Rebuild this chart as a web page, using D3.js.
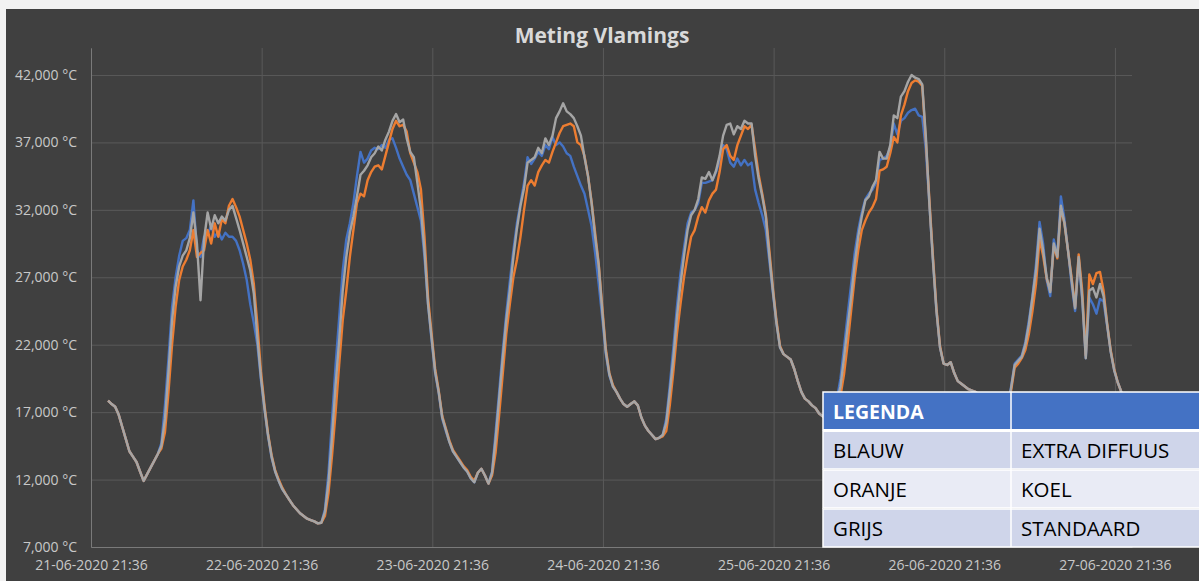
<!DOCTYPE html>
<html>
<head>
<meta charset="utf-8">
<script src="https://cdn.jsdelivr.net/npm/d3@7"></script>
<style>
  body { margin: 0; background: #f2f2f2; }
  svg { display: block; }
</style>
</head>
<body>
<svg id="chart" width="1199" height="581"></svg>
<script>
// half-hour readings, starting 22-06-2020 00:00
var startTime = new Date(2020, 5, 22, 0, 0);
var stepMinutes = 30;

var blauw = [
  17.85,17.6,17.4,16.8,15.9,15.0,14.1,13.7,13.3,12.6,11.9,12.4,12.9,13.4,13.9,14.7,17.5,21.0,24.8,27.0,28.6,29.7,29.9,30.5,
  32.7,29.0,28.5,30.0,30.2,30.8,30.0,30.4,29.8,30.3,30.0,30.0,29.7,29.0,28.0,26.8,25.0,23.6,22.0,19.4,17.2,15.2,13.6,12.6,
  11.9,11.3,10.9,10.5,10.1,9.8,9.5,9.3,9.1,9.0,8.9,8.75,8.8,9.8,12.5,16.5,20.5,24.0,27.5,29.8,31.0,32.5,34.5,36.3,
  35.5,35.8,36.4,36.6,36.5,36.8,36.6,37.2,37.3,36.6,35.8,35.2,34.6,34.2,33.2,32.2,31.2,28.5,25.0,22.3,19.9,18.4,16.5,15.6,
  14.8,14.1,13.7,13.3,12.9,12.6,12.1,11.8,12.5,12.8,12.3,11.7,12.6,15.5,18.5,21.5,24.3,26.7,29.0,31.0,32.5,34.0,35.9,35.4,
  35.8,36.3,36.0,36.8,36.5,37.4,36.8,37.0,36.7,36.2,36.0,35.2,34.5,33.8,33.2,32.0,30.8,28.8,26.5,24.0,21.3,19.7,18.9,18.5,
  18.0,17.6,17.4,17.6,17.8,17.5,16.6,16.0,15.6,15.3,15.0,15.1,15.3,16.5,19.0,21.8,24.8,27.3,29.2,31.0,31.8,32.0,32.5,34.0,
  34.0,34.1,34.2,34.8,35.6,36.8,36.5,35.5,35.2,35.8,35.3,35.7,35.3,35.5,33.5,32.5,31.6,30.5,28.2,25.8,23.6,21.8,21.3,21.1,
  20.9,20.2,19.3,18.5,18.0,17.8,17.5,17.3,16.9,16.7,16.5,16.4,16.8,18.0,19.5,21.8,24.2,26.5,28.8,30.5,31.8,32.8,33.2,33.5,
  34.0,35.7,35.8,36.0,36.6,38.4,37.6,38.6,38.8,39.2,39.4,39.5,39.0,38.9,36.5,32.5,28.3,24.5,21.8,20.6,20.5,20.7,19.9,19.3,
  19.1,18.9,18.7,18.6,18.5,18.3,18.1,17.9,17.7,17.5,17.3,17.1,17.0,17.2,18.9,20.6,20.9,21.2,22.2,23.8,25.6,28.0,31.1,29.5,
  26.8,25.6,29.8,28.6,33.0,31.3,29.0,26.5,24.5,28.3,25.3,21.0,25.5,25.0,24.3,25.4,25.2,23.4,21.5,20.1,19.2,18.5,17.9,17.4
];

var oranje = [
  17.85,17.6,17.4,16.8,15.9,15.0,14.1,13.7,13.3,12.6,11.9,12.4,12.9,13.4,13.9,14.3,15.5,18.5,22.0,24.8,26.8,27.8,28.3,29.0,
  30.5,28.5,28.8,29.0,30.5,29.5,31.0,30.0,31.3,31.0,32.3,32.8,32.2,31.5,30.5,29.5,28.3,26.5,23.5,20.0,17.5,15.4,13.8,12.7,
  12.0,11.4,10.9,10.5,10.1,9.8,9.5,9.3,9.1,9.0,8.9,8.75,8.8,9.3,11.0,13.8,17.0,20.5,23.8,26.0,28.5,30.5,32.5,33.2,
  33.0,34.2,34.8,35.2,35.3,35.0,36.0,37.0,38.0,38.6,38.2,38.3,37.8,36.2,35.5,34.8,33.5,30.0,25.5,22.8,20.2,18.6,16.7,15.8,
  14.9,14.2,13.8,13.4,13.0,12.7,12.2,11.9,12.5,12.8,12.3,11.7,12.3,14.0,16.8,19.8,22.8,25.0,27.0,28.3,30.0,32.0,33.8,34.2,
  33.8,34.8,35.3,35.7,35.5,36.3,37.0,37.7,38.2,38.3,38.4,38.2,37.0,36.8,36.0,34.5,32.6,30.3,28.0,24.8,21.7,19.9,19.0,18.5,
  18.0,17.6,17.4,17.6,17.8,17.5,16.6,16.0,15.6,15.3,15.0,15.1,15.2,15.6,17.5,20.0,22.8,25.0,27.0,28.6,30.0,30.5,31.5,32.2,
  31.8,32.7,33.2,33.5,34.8,36.5,36.8,36.0,35.7,36.8,37.5,38.2,38.0,38.3,36.5,34.6,33.2,31.7,29.0,26.2,23.8,21.9,21.3,21.1,
  20.9,20.2,19.3,18.5,18.0,17.8,17.5,17.3,16.9,16.7,16.5,16.4,16.7,17.4,18.2,19.8,22.0,24.5,27.0,29.0,30.5,31.2,31.8,32.2,
  32.8,34.9,35.0,35.2,36.2,37.4,37.0,39.0,39.8,40.8,41.4,41.6,41.5,41.2,37.2,32.8,28.6,24.7,21.9,20.6,20.5,20.7,19.9,19.3,
  19.1,18.9,18.7,18.6,18.5,18.3,18.1,17.9,17.7,17.5,17.3,17.1,17.0,17.1,18.6,20.3,20.6,21.0,21.6,22.8,24.5,26.5,29.8,28.6,
  26.9,26.0,29.3,28.4,32.1,31.0,29.0,27.0,24.8,28.7,26.0,21.2,27.2,26.5,27.3,27.4,26.0,23.6,21.6,20.2,19.2,18.5,17.9,17.4
];

var grijs = [
  17.85,17.6,17.4,16.8,15.9,15.0,14.1,13.7,13.3,12.6,11.9,12.4,12.9,13.4,13.9,14.5,16.5,20.0,23.8,26.3,27.8,28.6,29.0,29.9,
  31.8,29.5,25.3,29.8,31.8,30.6,31.6,31.0,31.5,31.2,32.0,32.3,31.4,30.5,29.5,28.5,27.5,25.8,22.5,19.6,17.3,15.3,13.7,12.6,
  11.9,11.3,10.9,10.5,10.1,9.8,9.5,9.3,9.1,9.0,8.9,8.75,8.8,9.6,11.8,15.2,19.0,22.3,26.0,28.5,30.3,31.5,33.0,34.6,
  34.9,35.3,35.9,36.2,36.7,36.4,37.2,37.8,38.6,39.1,38.5,38.7,37.3,36.3,35.9,34.0,32.0,29.0,25.0,22.5,20.0,18.5,16.6,15.7,
  14.8,14.1,13.7,13.3,12.9,12.6,12.1,11.8,12.5,12.8,12.3,11.7,12.5,15.0,18.0,21.0,23.8,26.0,28.5,30.6,32.3,33.6,35.5,35.7,
  35.9,36.6,36.2,37.3,36.8,37.5,38.8,39.3,39.9,39.3,39.1,38.8,38.2,37.5,35.9,34.5,32.5,30.0,27.9,24.5,21.5,19.8,18.9,18.5,
  18.0,17.6,17.4,17.6,17.8,17.5,16.6,16.0,15.6,15.3,15.0,15.1,15.3,16.2,18.5,21.0,24.0,26.5,28.6,30.5,31.6,32.0,32.8,34.4,
  34.3,34.8,34.2,34.9,36.0,37.5,38.3,38.4,37.6,38.2,38.0,38.6,38.4,38.4,36.0,34.3,33.0,31.5,28.6,26.0,23.6,21.8,21.3,21.1,
  20.9,20.2,19.3,18.5,18.0,17.8,17.5,17.3,16.9,16.7,16.5,16.4,16.8,17.8,18.9,21.0,23.3,25.5,28.0,30.0,31.5,32.7,33.0,33.7,
  34.2,36.3,35.8,35.8,36.8,39.0,38.8,40.4,40.8,41.5,42.0,41.8,41.7,41.3,37.5,32.5,28.3,24.5,21.8,20.6,20.5,20.7,19.9,19.3,
  19.1,18.9,18.7,18.6,18.5,18.3,18.1,17.9,17.7,17.5,17.3,17.1,17.0,17.2,18.8,20.5,20.8,21.1,22.0,23.5,25.5,27.5,30.6,29.0,
  27.0,25.9,29.5,28.5,32.3,31.0,29.0,26.8,24.7,28.5,25.5,21.0,26.0,26.2,25.5,26.5,25.6,23.5,21.5,20.1,19.2,18.5,17.9,17.4
];

var yTicks = [7, 12, 17, 22, 27, 32, 37, 42];
var xTicks = ["21-06-2020 21:36", "22-06-2020 21:36", "23-06-2020 21:36", "24-06-2020 21:36",
  "25-06-2020 21:36", "26-06-2020 21:36", "27-06-2020 21:36"];

var legendRows = [
  ["BLAUW", "EXTRA DIFFUUS"],
  ["ORANJE", "KOEL"],
  ["GRIJS", "STANDAARD"]
];
var series = [
  { name: "EXTRA DIFFUUS", values: blauw, color: "#4472C4" },
  { name: "KOEL", values: oranje, color: "#ED7D31" },
  { name: "STANDAARD", values: grijs, color: "#A5A5A5" }
];

var parseTick = d3.timeParse("%d-%m-%Y %H:%M");
var fmtTick = d3.timeFormat("%d-%m-%Y %H:%M");
var nl = d3.formatLocale({ decimal: ",", thousands: ".", grouping: [3], currency: ["€", ""] });
var fmtY = nl.format(".3f");

var svg = d3.select("#chart");

// chart area
svg.append("rect")
  .attr("x", 6).attr("y", 9)
  .attr("width", 1199 - 6).attr("height", 581 - 9)
  .attr("fill", "#404040");

var plotLeft = 91, plotRight = 1132, plotTop = 48, plotBottom = 547;

var x = d3.scaleTime()
  .domain([parseTick(xTicks[0]), new Date(2020, 5, 28, 0, 0)])
  .range([plotLeft, plotRight]);
var y = d3.scaleLinear()
  .domain([7, 44])
  .range([plotBottom, plotTop]);

// grid
svg.append("g")
  .attr("transform", "translate(" + plotLeft + ",0)")
  .call(d3.axisLeft(y).tickValues(yTicks).tickSize(-(plotRight - plotLeft)).tickFormat(""))
  .call(function (g) {
    g.select(".domain").remove();
    g.selectAll("line").attr("stroke", "#595959").attr("stroke-width", 1);
  });
svg.append("g")
  .attr("transform", "translate(0," + plotBottom + ")")
  .call(d3.axisBottom(x).tickValues(xTicks.map(parseTick)).tickSize(-(plotBottom - plotTop)).tickFormat(""))
  .call(function (g) {
    g.select(".domain").remove();
    g.selectAll("line").attr("stroke", "#595959").attr("stroke-width", 1);
  });

// axes
svg.append("g")
  .attr("transform", "translate(" + plotLeft + ",0)")
  .call(d3.axisLeft(y).tickValues(yTicks).tickSize(0).tickPadding(14)
    .tickFormat(function (d) { return fmtY(d) + " °C"; }))
  .call(function (g) {
    g.select(".domain").attr("stroke", "#7a7a7a");
    g.selectAll("text").attr("fill", "#c8c8c8")
      .style("font", "14px 'Open Sans', sans-serif");
  });
svg.append("g")
  .attr("transform", "translate(0," + plotBottom + ")")
  .call(d3.axisBottom(x).tickValues(xTicks.map(parseTick)).tickSize(0).tickPadding(13)
    .tickFormat(fmtTick))
  .call(function (g) {
    g.select(".domain").attr("stroke", "#7a7a7a");
    g.selectAll("text").attr("fill", "#c8c8c8")
      .style("font", "14px 'Open Sans', sans-serif");
  });

// lines
var line = d3.line()
  .x(function (d, i) { return x(d3.timeMinute.offset(startTime, i * stepMinutes)); })
  .y(function (d) { return y(d); });

svg.append("g").selectAll("path")
  .data(series).enter().append("path")
  .attr("d", function (d) { return line(d.values); })
  .attr("fill", "none")
  .attr("stroke", function (d) { return d.color; })
  .attr("stroke-width", 2.4)
  .attr("stroke-linejoin", "round");

// title
svg.append("text")
  .attr("x", 602).attr("y", 43)
  .attr("text-anchor", "middle")
  .attr("fill", "#d9d9d9")
  .style("font", "bold 21px 'Open Sans', sans-serif")
  .text("Meting Vlamings");

// legend table
var tx = 823, tw = 400, col2 = 1011;
var rowY = [392, 431, 470, 509], rowH = [38, 38, 38, 38];
var rowFill = ["#4472C4", "#CFD5EA", "#E9EBF5", "#CFD5EA"];
var table = svg.append("g");

table.selectAll("rect.row")
  .data(rowY).enter().append("rect")
  .attr("class", "row")
  .attr("x", tx).attr("y", function (d) { return d; })
  .attr("width", tw).attr("height", function (d, i) { return rowH[i]; })
  .attr("fill", function (d, i) { return rowFill[i]; })
  .attr("stroke", "#ffffff").attr("stroke-width", 1.5);
table.append("line")
  .attr("x1", tx).attr("x2", tx + tw).attr("y1", 430.5).attr("y2", 430.5)
  .attr("stroke", "#ffffff").attr("stroke-width", 3);
table.append("line")
  .attr("x1", col2).attr("x2", col2).attr("y1", 392).attr("y2", 547)
  .attr("stroke", "#ffffff").attr("stroke-width", 1.5);

table.append("text")
  .attr("x", tx + 10).attr("y", 419)
  .attr("fill", "#ffffff")
  .style("font", "bold 19.5px 'Open Sans', sans-serif")
  .text("LEGENDA");

var rows = table.selectAll("g.lrow")
  .data(legendRows).enter().append("g")
  .attr("class", "lrow")
  .attr("transform", function (d, i) { return "translate(0," + (rowY[i + 1] + 27) + ")"; });
rows.append("text")
  .attr("x", tx + 10)
  .attr("fill", "#000000")
  .style("font", "20.5px 'Open Sans', sans-serif")
  .text(function (d) { return d[0]; });
rows.append("text")
  .attr("x", col2 + 10)
  .attr("fill", "#000000")
  .style("font", "20.5px 'Open Sans', sans-serif")
  .text(function (d) { return d[1]; });
</script>
</body>
</html>
